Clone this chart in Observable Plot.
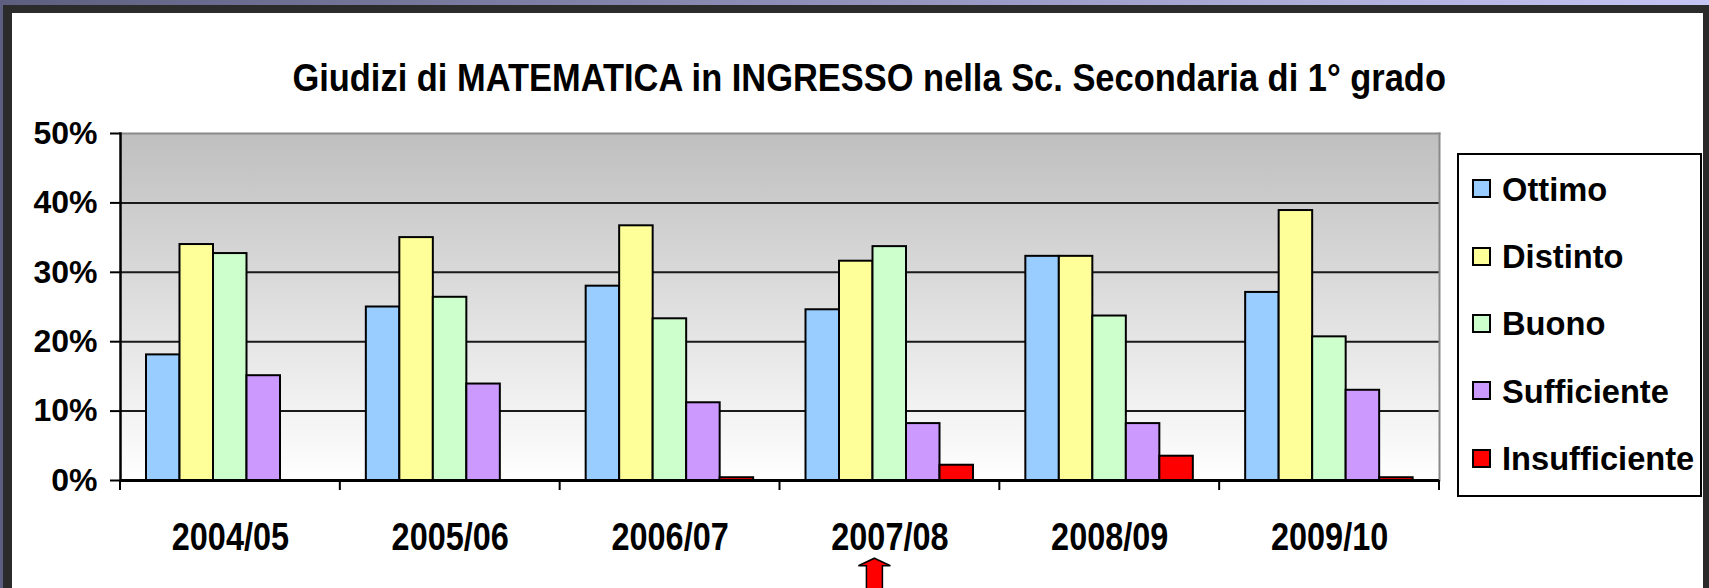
<!DOCTYPE html>
<html>
<head>
<meta charset="utf-8">
<script src="https://cdn.jsdelivr.net/npm/d3@7"></script>
<script src="https://cdn.jsdelivr.net/npm/@observablehq/plot@0.6"></script>
<style>
  html, body { margin: 0; padding: 0; }
  body { width: 1709px; height: 588px; overflow: hidden; font-family: "Liberation Sans", Arial, sans-serif; }
  #outer { position: relative; width: 1709px; height: 588px; overflow: hidden;
           background: linear-gradient(to right, #5e5e80, #c6c6f6); }
  #dark { position: absolute; left: 3px; top: 5px; right: 0; bottom: 0; background: #2b2b2b; }
  #panel { position: absolute; left: 12px; top: 13px; right: 6px; bottom: 0; background: #ffffff; }
  #title { position: absolute; left: 57px; top: 44.5px; width: 1600px; text-align: center;
           font-size: 39px; line-height: 39px; font-weight: bold; color: #000; white-space: nowrap; }
  #title span { display: inline-block; transform: scaleX(0.883); transform-origin: center; }
  #chart { position: absolute; left: 0; top: 87px; }
  #legend { position: absolute; left: 1444.7px; top: 140px; width: 245px; height: 344px;
            box-sizing: border-box; border: 2px solid #000; background: #fff; }
  .row { height: 67.4px; display: flex; align-items: center; }
  .sw { width: 19px; height: 19px; box-sizing: border-box; border: 2px solid #000; margin-left: 13px; flex: none; }
  .lab { margin-left: 11px; font-size: 34px; line-height: 34px; font-weight: bold; color: #000;
         display: inline-block; transform: scaleX(0.96); transform-origin: left center; white-space: nowrap; }
</style>
</head>
<body>
<div id="outer">
  <div id="dark"></div>
  <div id="panel">
    <div id="title"><span>Giudizi di MATEMATICA in INGRESSO nella Sc. Secondaria di 1° grado</span></div>
    <div id="chart"></div>
    <div id="legend"></div>
  </div>
</div>
<script>
// ---- data ----
const years = ["2004/05", "2005/06", "2006/07", "2007/08", "2008/09", "2009/10"];
const series = ["Ottimo", "Distinto", "Buono", "Sufficiente", "Insufficiente"];
const colors = ["#99ccff", "#ffff99", "#ccffcc", "#cc99ff", "#ff0000"];
const ottimo        = [18.1, 25.0, 28.0, 24.6, 32.3, 27.1];
const distinto      = [34.0, 35.0, 36.7, 31.6, 32.3, 38.9];
const buono         = [32.7, 26.4, 23.3, 33.7, 23.7, 20.7];
const sufficiente   = [15.1, 13.9, 11.2,  8.2,  8.2, 13.0];
const insufficiente = [ 0.0,  0.0,  0.4,  2.2,  3.5,  0.4];
const yTicks = [0, 10, 20, 30, 40, 50];
const gridTicks = [10, 20, 30, 40];
const highlighted = ["2007/08"];

const values = [ottimo, distinto, buono, sufficiente, insufficiente];
const data = years.flatMap((year, i) => series.map((s, j) => ({year, series: s, value: values[j][i]})));

// ---- layout ----
const W = 1440, H = 488, mL = 108, mR = 13, mT = 33, mB = 108;
const bw = (W - mL - mR) / years.length;
const padOuter = 26, barW = 33.5;

const gradient = () => {
  const defs = d3.create("svg:defs");
  const g = defs.append("linearGradient").attr("id", "bgGrad")
    .attr("x1", 0).attr("y1", 0).attr("x2", 0).attr("y2", 1);
  g.append("stop").attr("offset", 0).attr("stop-color", "#bfbfbf");
  g.append("stop").attr("offset", 1).attr("stop-color", "#ffffff");
  return defs.node();
};

const barMarks = series.map((s, j) => Plot.barY(
  data.filter(d => d.series === s && d.value > 0),
  {x: "year", y1: 0, y2: "value", fill: colors[j], stroke: "#000", strokeWidth: 2,
   insetLeft: padOuter + j * barW, insetRight: bw - padOuter - (j + 1) * barW}
));

const chart = Plot.plot({
  width: W, height: H,
  marginLeft: mL, marginRight: mR, marginTop: mT, marginBottom: mB,
  style: {fontFamily: "'Liberation Sans', Arial, sans-serif", color: "#000", background: "transparent", overflow: "visible"},
  x: {domain: years, padding: 0, round: false, label: null},
  y: {domain: [0, 50], label: null},
  marks: [
    gradient,
    Plot.frame({fill: "url(#bgGrad)", stroke: "none"}),
    Plot.ruleY(gridTicks, {stroke: "#1a1a1a", strokeWidth: 2}),
    Plot.frame({anchor: "top", stroke: "#8a8a8a", strokeWidth: 2}),
    Plot.frame({anchor: "right", stroke: "#8a8a8a", strokeWidth: 2}),
    ...barMarks,
    Plot.axisY({ticks: yTicks, tickSize: 10, tickPadding: 13, tickFormat: d => d + "%",
                fontSize: 32, fontWeight: "bold", strokeWidth: 2, label: null}),
    Plot.frame({anchor: "left", stroke: "#000", strokeWidth: 2.5}),
    Plot.ruleY([0], {stroke: "#000", strokeWidth: 3}),
    Plot.barY(years, {x: d => d, y1: 0, y2: 0, insetLeft: -1, insetRight: bw - 1, insetTop: 0, insetBottom: -10, fill: "#000"}),
    Plot.barY(years.slice(-1), {x: d => d, y1: 0, y2: 0, insetLeft: bw - 1, insetRight: -1, insetTop: 0, insetBottom: -10, fill: "#000"}),
    Plot.axisX({tickSize: 0, tickPadding: 43, fontSize: 38, fontWeight: "bold", label: null}),
    Plot.dot(highlighted, {
      x: d => d, frameAnchor: "bottom", dy: 77.7, dx: -15.5, r: 16,
      symbol: {draw(ctx, size) {
        const s = Math.sqrt(size / Math.PI) / 16;
        ctx.moveTo(0, 0); ctx.lineTo(16 * s, 7.5 * s); ctx.lineTo(8 * s, 7.5 * s); ctx.lineTo(8 * s, 45 * s);
        ctx.lineTo(-8 * s, 45 * s); ctx.lineTo(-8 * s, 7.5 * s); ctx.lineTo(-16 * s, 7.5 * s); ctx.closePath();
      }},
      fill: "#ff0000", stroke: "#000", strokeWidth: 1.5
    })
  ]
});

// condense the category labels
chart.querySelectorAll('g[aria-label^="x-axis tick label"] text').forEach(t => {
  t.setAttribute("transform", (t.getAttribute("transform") || "") + " scale(0.854,1)");
});
document.getElementById("chart").appendChild(chart);

// legend
const legend = d3.select("#legend");
series.forEach((s, j) => {
  const row = legend.append("div").attr("class", "row");
  row.append("div").attr("class", "sw").style("background", colors[j]);
  row.append("span").attr("class", "lab").text(s);
});
</script>
</body>
</html>
